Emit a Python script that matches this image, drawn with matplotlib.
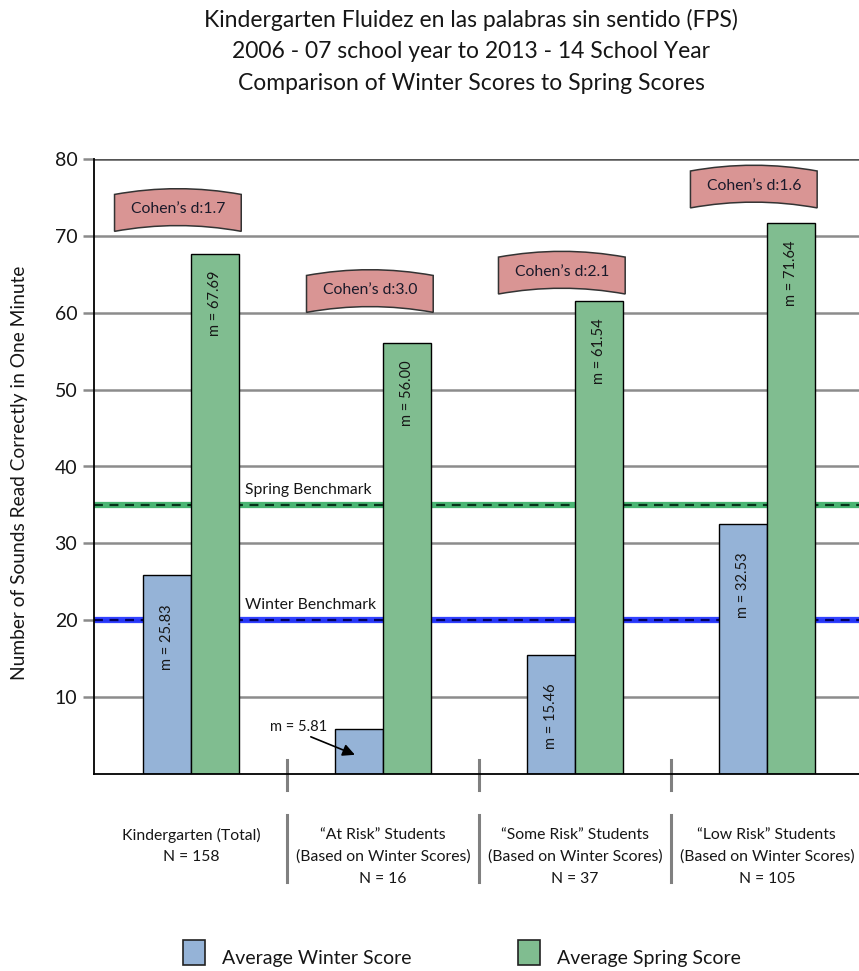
import matplotlib
matplotlib.use("Agg")
import matplotlib.pyplot as plt
from matplotlib.path import Path
from matplotlib.patches import PathPatch, Rectangle
import matplotlib.transforms as mtransforms

plt.rcParams['font.family'] = ['Lato', 'DejaVu Sans']

# ---- data ----
groups = ["Kindergarten (Total)\nN = 158",
          "\u201cAt Risk\u201d Students\n(Based on Winter Scores)\nN = 16",
          "\u201cSome Risk\u201d Students\n(Based on Winter Scores)\nN = 37",
          "\u201cLow Risk\u201d Students\n(Based on Winter Scores)\nN = 105"]
winter = [25.83, 5.81, 15.46, 32.53]
spring = [67.69, 56.00, 61.54, 71.64]
cohens_d = ["1.7", "3.0", "2.1", "1.6"]
winter_benchmark = 20
spring_benchmark = 35
yticks = [10, 20, 30, 40, 50, 60, 70, 80]
series_names = ["Average Winter Score", "Average Spring Score"]

title_lines = ["Kindergarten Fluidez en las palabras sin sentido (FPS)",
               "2006 - 07 school year to 2013 - 14 School Year",
               "Comparison of Winter Scores to Spring Scores"]
ylabel = "Number of Sounds Read Correctly in One Minute"

# ---- layout / style ----
blue = "#95B3D7"
green = "#80BD90"
pink = "#D99594"
txt = "#161616"
W, H = 859, 971
fig = plt.figure(figsize=(W / 100, H / 100), dpi=100)
ax = fig.add_axes([94 / W, 1 - 774 / H, 1 - 94 / W, (774 - 159) / H])

x = list(range(len(groups)))
bw = 0.25
ax.set_xlim(-0.505, 3.48)
ax.set_ylim(0, 80)

# gridlines
for t in yticks:
    ax.axhline(t, color="#8c8c8c" if t < 80 else "#555555", lw=1.8, zorder=1)

# benchmarks
ax.axhline(spring_benchmark, color="#2aa85a", lw=4.5, zorder=2, alpha=0.85)
ax.axhline(spring_benchmark, color="#06331a", lw=1.6, ls=(0, (4, 3)), zorder=2.1)
ax.axhline(winter_benchmark, color="#1a2cff", lw=4.5, zorder=2, alpha=0.9)
ax.axhline(winter_benchmark, color="#00005a", lw=1.6, ls=(0, (4, 3)), zorder=2.1)
ax.text(0.28, spring_benchmark + 2.0, "Spring Benchmark", fontsize=11.3,
        ha="left", va="center", color=txt, zorder=3)
ax.text(0.28, winter_benchmark + 2.0, "Winter Benchmark", fontsize=11.3,
        ha="left", va="center", color=txt, zorder=3)

# bars
ax.bar([i - bw / 2 for i in x], winter, bw, color=blue, edgecolor="black",
       lw=1.0, zorder=4)
ax.bar([i + bw / 2 for i in x], spring, bw, color=green, edgecolor="black",
       lw=1.0, zorder=4)

# bar value labels
for i in x:
    ax.text(i + bw / 2, spring[i] - 6.5, f"m = {spring[i]:.2f}", rotation=90,
            ha="center", va="center", fontsize=10.5, color=txt, zorder=5)
    if winter[i] > 10:
        ax.text(i - bw / 2, winter[i] - 8.0, f"m = {winter[i]:.2f}", rotation=90,
                ha="center", va="center", fontsize=10.5, color=txt, zorder=5)
    else:
        ax.annotate(f"m = {winter[i]:.2f}", xy=(i - 0.146, winter[i] * 0.43),
                    xytext=(i - 0.292, winter[i] + 0.3), ha="right", va="center",
                    fontsize=10.5, color=txt, zorder=6,
                    arrowprops=dict(arrowstyle="-|>", color="black", lw=1.2,
                                    mutation_scale=18, shrinkA=0, shrinkB=0,
                                    relpos=(0.6, 0.0)))

# Cohen's d banners
banner_offset = [5.3, 6.45, 3.3, 4.4]
bwid, bht, bulge = 0.66, 4.8, 0.75
for i in x:
    xc = i - 0.068
    yc = spring[i] + banner_offset[i]
    x0, x1 = xc - bwid / 2, xc + bwid / 2
    yt, yb = yc + bht / 2, yc - bht / 2
    verts = [(x0, yt), (xc, yt + 2 * bulge), (x1, yt), (x1, yb),
             (xc, yb + 2 * bulge), (x0, yb), (x0, yt)]
    codes = [Path.MOVETO, Path.CURVE3, Path.CURVE3, Path.LINETO,
             Path.CURVE3, Path.CURVE3, Path.CLOSEPOLY]
    ax.add_patch(PathPatch(Path(verts, codes), facecolor=pink,
                           edgecolor="#333333", lw=1.1, zorder=6))
    ax.text(xc, yc + bulge * 0.6, f"Cohen\u2019s d:{cohens_d[i]}", ha="center",
            va="center", fontsize=11.3, color="#1a1a2a", zorder=7)

# axes styling
for s in ["top", "right"]:
    ax.spines[s].set_visible(False)
for s in ["left", "bottom"]:
    ax.spines[s].set_color("black")
    ax.spines[s].set_linewidth(1.3)
    ax.spines[s].set_zorder(8)
ax.set_yticks(yticks)
ax.set_yticklabels([str(t) for t in yticks], fontsize=14, color=txt)
ax.tick_params(axis="y", length=8, width=1.8, color="#8a8a8a", pad=4)
ax.set_xticks([])

fig.text(20 / W, 1 - 473 / H, ylabel, rotation=90, ha="center", va="center",
         fontsize=13.8, color=txt)

# category labels and separators (below axis)
trans = mtransforms.blended_transform_factory(ax.transData, fig.transFigure)
for i in x:
    for j, line in enumerate(groups[i].split("\n")):
        ax.text(i, 1 - (835 + 22 * j) / H, line, transform=trans, ha="center",
                va="center", fontsize=11.3, color=txt, clip_on=False)
for s in [0.5, 1.5, 2.5]:
    ax.plot([s, s], [1 - 760 / H, 1 - 790 / H], transform=trans, color="#808080",
            lw=2.2, clip_on=False)
    ax.plot([s, s], [1 - 815 / H, 1 - 882 / H], transform=trans, color="#808080",
            lw=2.2, clip_on=False)

# title
for j, line in enumerate(title_lines):
    fig.text(471 / W, 1 - (20 + 31.5 * j) / H, line, ha="center", va="center",
             fontsize=16.5, color=txt)

# legend (drawn manually)
for k, (col, name) in enumerate(zip([blue, green], series_names)):
    x0 = [183, 518][k]
    fig.patches.append(Rectangle((x0 / W, 1 - 965 / H), 22 / W, 25 / H,
                                 transform=fig.transFigure, facecolor=col,
                                 edgecolor="#222222", lw=1.2))
    fig.text((x0 + 39) / W, 1 - 958 / H, name, ha="left", va="center",
             fontsize=14, color=txt)

fig.savefig("out.png", dpi=100)
